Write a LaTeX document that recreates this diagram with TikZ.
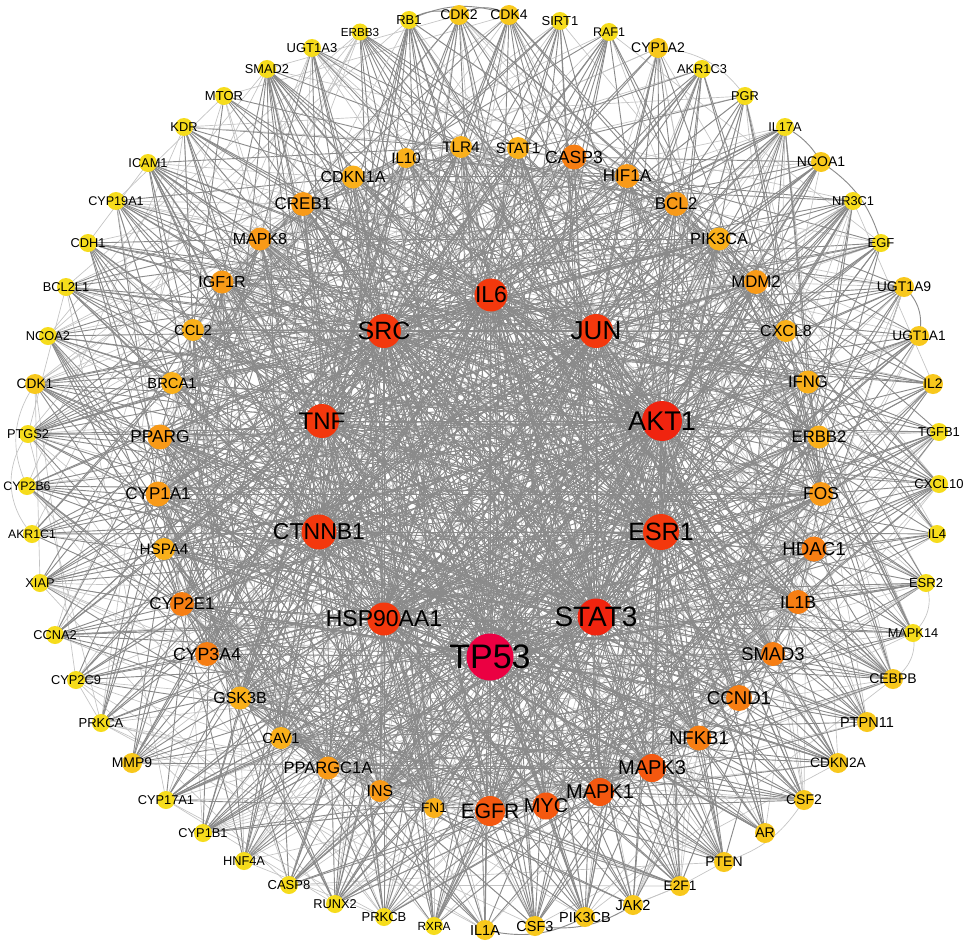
\documentclass[tikz,border=0pt]{standalone}
\usepackage{fontspec}
\setmainfont{Liberation Sans}
\pgfdeclarelayer{edges}
\pgfdeclarelayer{labels}
\pgfsetlayers{edges,main,labels}
\definecolor{c0}{HTML}{F6DC1C}
\definecolor{c1}{HTML}{F8C81C}
\definecolor{c2}{HTML}{F9B01B}
\definecolor{c3}{HTML}{F89A18}
\definecolor{c4}{HTML}{F67E13}
\definecolor{c5}{HTML}{F45810}
\definecolor{c6}{HTML}{F3380D}
\definecolor{c7}{HTML}{F0240F}
\definecolor{c8}{HTML}{EB0042}
\definecolor{edgedark}{HTML}{8A8A8A}
\definecolor{edgelight}{HTML}{C4C4C4}
\tikzset{
  gn/.style={circle,inner sep=0pt,draw=none},
  gl/.style={inner sep=0pt,text=black},
  lk/.style={draw=edgedark,line width=0.68pt},
  lkl/.style={draw=edgelight,line width=0.5pt}
}
% name, x, y, colour, diameter(px), font(px)
\newcommand\gnode[6]{%
  \pgfmathsetmacro\gds{#5*0.75}%
  \pgfmathsetmacro\gfs{#6*0.75}%
  \node[gn,fill=#4,minimum size=\gds pt] (#1) at (#2,#3) {};
  \begin{pgfonlayer}{labels}
    \node[gl,font=\fontsize{\gfs pt}{\gfs pt}\selectfont] (#1-t) at (#2,#3) {#1};
  \end{pgfonlayer}
}
\newcommand\innerlist{IL6,JUN,AKT1,ESR1,STAT3,TP53,HSP90AA1,CTNNB1,TNF,SRC}
\newcommand\midlist{IL10,TLR4,STAT1,CASP3,HIF1A,CDKN1A,BCL2,CREB1,PIK3CA,MAPK8,MDM2,IGF1R,CXCL8,CCL2,IFNG,BRCA1,ERBB2,PPARG,FOS,CYP1A1,HDAC1,HSPA4,IL1B,CYP2E1,SMAD3,CYP3A4,CCND1,GSK3B,NFKB1,CAV1,MAPK3,PPARGC1A,MAPK1,INS,MYC,FN1,EGFR}
\newcommand\outerlist{ERBB3,RB1,CDK2,CDK4,SIRT1,RAF1,CYP1A2,AKR1C3,PGR,IL17A,NCOA1,NR3C1,EGF,UGT1A9,UGT1A1,IL2,TGFB1,CXCL10,IL4,ESR2,MAPK14,CEBPB,PTPN11,CDKN2A,CSF2,AR,PTEN,E2F1,JAK2,PIK3CB,CSF3,IL1A,RXRA,PRKCB,RUNX2,CASP8,HNF4A,CYP1B1,CYP17A1,MMP9,PRKCA,CYP2C9,CCNA2,XIAP,AKR1C1,CYP2B6,PTGS2,CDK1,NCOA2,BCL2L1,CDH1,CYP19A1,ICAM1,KDR,MTOR,SMAD2,UGT1A3}
\newcommand\restlist{IL10,TLR4,STAT1,CASP3,HIF1A,CDKN1A,BCL2,CREB1,PIK3CA,MAPK8,MDM2,IGF1R,CXCL8,CCL2,IFNG,BRCA1,ERBB2,PPARG,FOS,CYP1A1,HDAC1,HSPA4,IL1B,CYP2E1,SMAD3,CYP3A4,CCND1,GSK3B,NFKB1,CAV1,MAPK3,PPARGC1A,MAPK1,INS,MYC,FN1,EGFR,ERBB3,RB1,CDK2,CDK4,SIRT1,RAF1,CYP1A2,AKR1C3,PGR,IL17A,NCOA1,NR3C1,EGF,UGT1A9,UGT1A1,IL2,TGFB1,CXCL10,IL4,ESR2,MAPK14,CEBPB,PTPN11,CDKN2A,CSF2,AR,PTEN,E2F1,JAK2,PIK3CB,CSF3,IL1A,RXRA,PRKCB,RUNX2,CASP8,HNF4A,CYP1B1,CYP17A1,MMP9,PRKCA,CYP2C9,CCNA2,XIAP,AKR1C1,CYP2B6,PTGS2,CDK1,NCOA2,BCL2L1,CDH1,CYP19A1,ICAM1,KDR,MTOR,SMAD2,UGT1A3}
\begin{document}
\begin{tikzpicture}[x=0.75pt,y=-0.75pt]
\useasboundingbox (0,0) rectangle (969,942);
% ---------- outer ring ----------
\gnode{ERBB3}{360}{32}{c0}{17}{11.7}
\gnode{RB1}{409}{20}{c0}{18}{13}
\gnode{CDK2}{459}{15}{c1}{20}{14}
\gnode{CDK4}{509}{15}{c1}{20}{14}
\gnode{SIRT1}{560}{21}{c0}{18}{13}
\gnode{RAF1}{609}{32}{c0}{18}{12.5}
\gnode{CYP1A2}{658}{48}{c1}{20}{14}
\gnode{AKR1C3}{702}{69}{c0}{18}{12.8}
\gnode{PGR}{745}{96}{c0}{18}{12.8}
\gnode{IL17A}{785}{127}{c0}{18}{12.8}
\gnode{NCOA1}{821}{162}{c1}{20}{14}
\gnode{NR3C1}{853}{201}{c0}{18}{12.8}
\gnode{EGF}{881}{243}{c0}{18}{13}
\gnode{UGT1A9}{904}{287}{c1}{20}{14}
\gnode{UGT1A1}{919}{336}{c1}{20}{13.7}
\gnode{IL2}{933}{384}{c1}{20}{13.9}
\gnode{TGFB1}{939}{432}{c0}{18}{13}
\gnode{CXCL10}{939}{484}{c0}{18}{13}
\gnode{IL4}{937}{534}{c0}{18}{13}
\gnode{ESR2}{926}{583}{c0}{18}{13}
\gnode{MAPK14}{913}{633}{c0}{18}{12.8}
\gnode{CEBPB}{893}{679}{c1}{20}{14}
\gnode{PTPN11}{867}{722}{c1}{20}{14.5}
\gnode{CDKN2A}{838}{763}{c1}{20}{13.7}
\gnode{CSF2}{804}{800}{c1}{20}{14}
\gnode{AR}{765}{833}{c1}{20}{14}
\gnode{PTEN}{724}{862}{c1}{20}{14}
\gnode{E2F1}{680}{886}{c1}{20}{13.7}
\gnode{JAK2}{633}{905}{c1}{20}{14.5}
\gnode{PIK3CB}{585}{917}{c1}{20}{14.5}
\gnode{CSF3}{535}{926}{c1}{20}{14.5}
\gnode{IL1A}{485}{930}{c1}{20}{14.5}
\gnode{RXRA}{434}{926}{c0}{18}{11.8}
\gnode{PRKCB}{384}{917}{c0}{18}{13}
\gnode{RUNX2}{335}{904}{c0}{18}{12.8}
\gnode{CASP8}{289}{885}{c0}{18}{13}
\gnode{HNF4A}{244}{861}{c0}{18}{12.8}
\gnode{CYP1B1}{203}{833}{c0}{18}{12.8}
\gnode{CYP17A1}{166}{800}{c0}{18}{12.8}
\gnode{MMP9}{132}{763}{c1}{20}{14}
\gnode{PRKCA}{101}{723}{c0}{18}{13}
\gnode{CYP2C9}{76}{680}{c0}{18}{12.8}
\gnode{CCNA2}{55}{635}{c0}{18}{12.8}
\gnode{XIAP}{40}{583}{c0}{18}{12.8}
\gnode{AKR1C1}{32}{534}{c0}{18}{12.3}
\gnode{CYP2B6}{27}{486}{c0}{18}{12.3}
\gnode{PTGS2}{28}{434}{c0}{18}{12.8}
\gnode{CDK1}{35}{384}{c1}{20}{13.7}
\gnode{NCOA2}{48}{336}{c0}{18}{12.8}
\gnode{BCL2L1}{66}{287}{c0}{18}{12.8}
\gnode{CDH1}{88}{243}{c0}{18}{12.8}
\gnode{CYP19A1}{116}{201}{c0}{18}{12.6}
\gnode{ICAM1}{148}{163}{c0}{18}{12.8}
\gnode{KDR}{184}{127}{c0}{18}{12.8}
\gnode{MTOR}{224}{96}{c0}{18}{13}
\gnode{SMAD2}{267}{69}{c0}{18}{12.8}
\gnode{UGT1A3}{312}{48}{c0}{18}{13}
% ---------- middle ring ----------
\gnode{IL10}{406}{158}{c2}{20}{15}
\gnode{TLR4}{461}{147}{c2}{22}{15.3}
\gnode{STAT1}{518}{148}{c2}{22}{15}
\gnode{CASP3}{574}{157}{c4}{25}{17.6}
\gnode{HIF1A}{627}{176}{c3}{24}{17}
\gnode{CDKN1A}{353}{177}{c2}{23}{16}
\gnode{BCL2}{676}{204}{c3}{24}{17}
\gnode{CREB1}{303}{204}{c3}{24}{17}
\gnode{PIK3CA}{719}{239}{c2}{23}{16.2}
\gnode{MAPK8}{260}{239}{c3}{23}{16}
\gnode{MDM2}{756}{282}{c3}{24}{16.8}
\gnode{IGF1R}{222}{282}{c3}{23}{16}
\gnode{CXCL8}{786}{331}{c2}{22}{16}
\gnode{CCL2}{193}{330}{c2}{22}{14.7}
\gnode{IFNG}{808}{382}{c2}{23}{16.7}
\gnode{BRCA1}{172}{383}{c2}{22}{14.7}
\gnode{ERBB2}{819}{437}{c2}{23}{16.7}
\gnode{PPARG}{160}{437}{c3}{25}{17.3}
\gnode{FOS}{821}{494}{c3}{24}{17.3}
\gnode{CYP1A1}{158}{494}{c3}{25}{17}
\gnode{HDAC1}{814}{549}{c4}{25}{18.7}
\gnode{HSPA4}{164}{549}{c2}{22}{15.2}
\gnode{IL1B}{798}{602}{c4}{24}{17.5}
\gnode{CYP2E1}{182}{604}{c4}{24}{17}
\gnode{SMAD3}{773}{654}{c4}{24}{18.4}
\gnode{CYP3A4}{207}{654}{c4}{24}{17.7}
\gnode{CCND1}{739}{698}{c4}{26}{18.6}
\gnode{GSK3B}{240}{698}{c2}{23}{16}
\gnode{NFKB1}{699}{738}{c4}{25}{18.6}
\gnode{CAV1}{281}{738}{c2}{22}{14.7}
\gnode{MAPK3}{652}{768}{c5}{28}{20}
\gnode{PPARGC1A}{328}{768}{c3}{23}{16.5}
\gnode{MAPK1}{600}{792}{c5}{28}{20}
\gnode{INS}{380}{791}{c3}{22}{16}
\gnode{MYC}{546}{806}{c5}{27}{20}
\gnode{FN1}{434}{808}{c2}{20}{13.6}
\gnode{EGFR}{490}{811}{c5}{30}{21}
% ---------- inner ----------
\gnode{IL6}{491}{295}{c6}{33}{23}
\gnode{SRC}{384}{331}{c6}{34}{25}
\gnode{JUN}{596}{331}{c6}{34}{26}
\gnode{TNF}{322}{421}{c6}{34}{24}
\gnode{AKT1}{662}{421}{c7}{40}{27}
\gnode{CTNNB1}{319}{532}{c6}{35}{23}
\gnode{ESR1}{661}{532}{c6}{36}{25}
\gnode{HSP90AA1}{384}{619}{c6}{33}{23}
\gnode{STAT3}{596}{617}{c7}{37}{28}
\gnode{TP53}{490}{657}{c8}{47}{34}
% ---------- edges ----------
\begin{pgfonlayer}{edges}
\fill[white] (0,0) rectangle (969,942);
\pgfmathsetseed{20231}
% light peripheral edges
\foreach \a in \outerlist {
  \foreach \b in \outerlist {
    \pgfmathsetmacro\rv{rnd}
    \ifdim\rv pt<0.03pt \draw[lkl] (\a.center) -- (\b.center); \fi
  }
}
\foreach \a in \midlist {
  \foreach \b in \restlist {
    \pgfmathsetmacro\rv{rnd}
    \ifdim\rv pt<0.16pt \draw[lk] (\a.center) -- (\b.center);
    \else\ifdim\rv pt<0.23pt \draw[lkl] (\a.center) -- (\b.center); \fi\fi
  }
}
\foreach \a in \innerlist {
  \foreach \b in \restlist {
    \pgfmathsetmacro\rv{rnd}
    \ifdim\rv pt<0.66pt \draw[lk] (\a.center) -- (\b.center); \fi
  }
}
\foreach \a [count=\i] in \innerlist {
  \foreach \b [count=\j] in \innerlist {
    \ifnum\j>\i \draw[lk] (\a.center) -- (\b.center); \fi
  }
}
% curved duplicate links along the rim
\draw[lk] (CDK2.center) to[bend left=30] (CDK4.center);
\draw[lk] (RB1.center) to[bend left=22] (CDK4.center);
\draw[lk] (RB1.center) to[bend left=25] (CDK2.center);
\draw[lk] (NCOA1.center) to[bend left=20] (EGF.center);
\draw[lk] (IL17A.center) to[bend left=15] (NCOA1.center);
\draw[lk] (UGT1A9.center) to[bend left=30] (UGT1A1.center);
\draw[lkl] (ESR2.center) to[bend left=35] (MAPK14.center);
\draw[lkl] (MAPK14.center) to[bend left=35] (CEBPB.center);
\draw[lkl] (PTGS2.center) to[bend right=40] (AKR1C1.center);
\draw[lkl] (CDK1.center) to[bend right=30] (CYP2B6.center);
\draw[lk] (IL1A.center) to[bend right=20] (PIK3CB.center);
\draw[lk] (CSF3.center) to[bend right=20] (JAK2.center);
\draw[lkl] (CSF2.center) to[bend left=20] (PTEN.center);
\draw[lkl] (CYP1A2.center) to[bend left=25] (PGR.center);
\end{pgfonlayer}
\end{tikzpicture}
\end{document}
